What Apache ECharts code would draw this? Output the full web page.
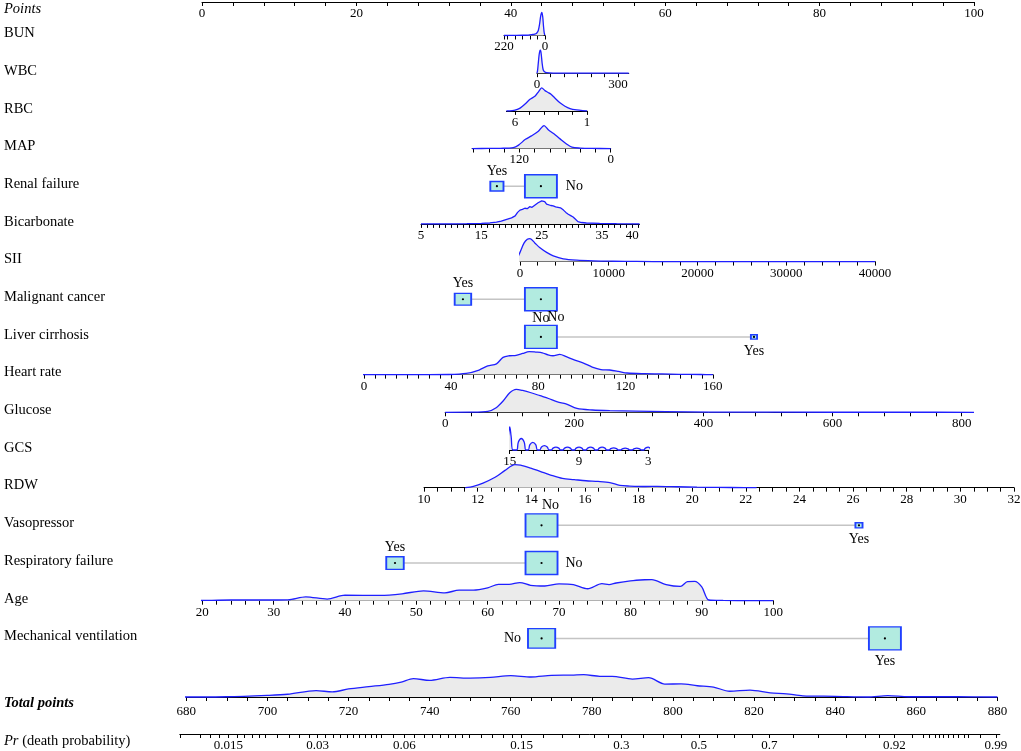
<!DOCTYPE html>
<html><head><meta charset="utf-8">
<script src="https://cdn.jsdelivr.net/npm/echarts@6/dist/echarts.min.js"></script>
<style>html,body{margin:0;padding:0;background:#fff}#c{width:1021px;height:751px}</style>
</head><body><div id="c"></div>
<script>
// ================= DATA =================
function seq(a, b, s) { const r = []; for (let v = a; v <= b + 1e-9; v += s) r.push(+v.toFixed(6)); return r; }

// Points scale
const pointsLabels = [0, 20, 40, 60, 80, 100];
const pointsTicks = seq(0, 100, 4);

// Continuous predictors: value range, points at both ends of the range
const bunRange = [0, 220], bunPoints = [44.43, 39.12];
const bunTicks = [0, 40, 80, 120, 160, 200, 220], bunLabels = [220, 0];
const bunDensity = [[220,0],[170,0.005],[120,0.01],[90,0.02],[70,0.04],[55,0.06],[45,0.1],[36,0.22],[29,0.5],[23,0.85],[17,1.0],[12,0.8],[8,0.4],[4,0.1],[1,0.02],[0,0]];

const wbcRange = [0, 340], wbcPoints = [43.39, 55.28];
const wbcTicks = seq(0, 300, 50), wbcLabels = [0, 300];
const wbcDensity = [[0,0],[2,0.1],[5,0.45],[8,0.8],[11,0.98],[13,1.0],[16,0.8],[19,0.45],[23,0.15],[28,0.06],[36,0.02],[60,0.005],[340,0]];

const rbcRange = [1, 6.6], rbcPoints = [49.87, 39.43];
const rbcTicks = [1, 2, 3, 4, 5, 6], rbcLabels = [6, 1];
const rbcDensity = [[6.6,0],[6.2,0.01],[6.0,0.03],[5.65,0.12],[5.3,0.3],[4.96,0.5],[4.6,0.65],[4.35,0.85],[4.15,1.0],[3.92,0.88],[3.7,0.8],[3.5,0.72],[3.22,0.55],[2.88,0.35],[2.53,0.2],[2.18,0.1],[1.72,0.04],[1.3,0.01],[1,0]];

const mapRange = [0, 182], mapPoints = [52.94, 34.99];
const mapTicks = seq(0, 180, 20), mapLabels = [120, 0];
const mapDensity = [[182,0],[160,0.005],[145,0.01],[128,0.04],[121,0.15],[112,0.4],[104,0.55],[95,0.75],[87.5,1.0],[82,0.82],[75,0.65],[66.5,0.42],[58,0.2],[51,0.06],[40,0.02],[25,0.005],[0,0]];

const bicRange = [5, 41.2], bicPoints = [28.37, 56.67];
const bicTicks = seq(5, 41, 1), bicLabels = [5, 15, 25, 35, 40];
const bicDensity = [[5,0],[10,0.005],[12.6,0.01],[15,0.02],[16.4,0.04],[17.5,0.08],[18.3,0.12],[19.2,0.2],[20,0.26],[20.6,0.35],[21,0.5],[21.4,0.6],[21.8,0.63],[22.2,0.68],[22.6,0.66],[23,0.75],[23.4,0.72],[23.9,0.82],[24.2,0.78],[24.4,0.92],[24.7,0.88],[25,1.0],[25.3,0.93],[25.5,0.97],[25.8,0.86],[26.1,0.85],[26.5,0.8],[26.9,0.78],[27.3,0.74],[27.7,0.72],[28.1,0.7],[28.6,0.6],[29,0.5],[29.4,0.42],[29.8,0.36],[30.2,0.3],[30.6,0.2],[31,0.1],[31.6,0.06],[32.4,0.04],[34.6,0.02],[37.4,0.01],[41.2,0]];

const siiRange = [0, 40000], siiPoints = [41.19, 87.18];
const siiTicks = seq(0, 40000, 2000), siiLabels = [0, 10000, 20000, 30000, 40000];
const siiDensity = [[-1050,0],[-600,0.03],[-370,0.1],[0,0.4],[450,0.8],[825,0.97],[1130,1.0],[1690,0.8],[2250,0.6],[3000,0.4],[3750,0.25],[4880,0.12],[6390,0.06],[8270,0.03],[10500,0.015],[13130,0.005],[16900,0],[40000,0]];

const hrRange = [0, 160], hrPoints = [20.97, 66.17];
const hrTicks = seq(0, 160, 5), hrLabels = [0, 40, 80, 120, 160];
const hrDensity = [[-4.6,0],[30,0],[38.9,0.005],[46.9,0.05],[52.8,0.2],[56.8,0.38],[60.8,0.47],[63.8,0.75],[66.8,0.82],[69.8,0.84],[72.8,0.92],[75.8,1.0],[78.8,0.98],[81.8,0.95],[84.4,0.86],[86.7,0.82],[89.8,0.88],[92.8,0.78],[96.7,0.63],[100.7,0.5],[104.7,0.33],[108.7,0.22],[112.7,0.2],[116.7,0.14],[120.7,0.07],[128.6,0.04],[136.6,0.03],[144.5,0.015],[154.6,0.005],[160,0]];

const gluRange = [0, 816], gluPoints = [31.5, 99.74];
const gluTicks = seq(0, 800, 40), gluLabels = [0, 200, 400, 600, 800];
const gluDensity = [[0,0],[39,0.005],[66,0.04],[79,0.2],[90,0.5],[100,0.85],[110,1.0],[120,0.95],[133,0.85],[147,0.72],[160,0.6],[174,0.45],[187,0.37],[204,0.17],[228,0.1],[255,0.07],[295,0.05],[342,0.03],[410,0.01],[510,0.005],[700,0.002],[840,0]];

const gcsRange = [3, 15], gcsPoints = [57.81, 39.86];
const gcsTicks = seq(3, 15, 1), gcsLabels = [15, 9, 3];
const gcsDensity = [[15.25,0],[15.12,0.6],[15,1.0],[14.88,0.6],[14.72,0],
  [14.4,0],[14.25,0.35],[14,0.5],[13.75,0.35],[13.6,0],
  [13.4,0],[13.25,0.23],[13,0.33],[12.75,0.23],[12.6,0],
  [12.4,0],[12.25,0.13],[12,0.19],[11.75,0.13],[11.6,0],
  [11.4,0],[11.25,0.08],[11,0.12],[10.75,0.08],[10.6,0],
  [10.4,0],[10.25,0.08],[10,0.12],[9.75,0.08],[9.6,0],
  [9.4,0],[9.25,0.08],[9,0.12],[8.75,0.08],[8.6,0],
  [8.4,0],[8.25,0.08],[8,0.12],[7.75,0.08],[7.6,0],
  [7.4,0],[7.25,0.08],[7,0.12],[6.75,0.08],[6.6,0],
  [6.4,0],[6.25,0.06],[6,0.09],[5.75,0.06],[5.6,0],
  [5.4,0],[5.25,0.05],[5,0.08],[4.75,0.05],[4.6,0],
  [4.4,0],[4.25,0.05],[4,0.08],[3.75,0.05],[3.6,0],
  [3.4,0],[3.25,0.08],[3,0.12],[2.8,0.06],[2.65,0]];

const rdwRange = [10, 32], rdwPoints = [28.76, 105.18];
const rdwTicks = seq(10, 32, 0.5), rdwLabels = seq(10, 32, 2);
const rdwDensity = [[11.54,0],[11.84,0.06],[12.2,0.2],[12.65,0.45],[13.02,0.75],[13.39,1.0],[13.6,0.98],[13.98,0.85],[14.35,0.7],[14.72,0.55],[15.16,0.4],[15.6,0.35],[16.04,0.3],[16.49,0.27],[16.93,0.22],[17.3,0.1],[17.67,0.07],[18.26,0.05],[18.7,0.06],[19.44,0.04],[20.18,0.02],[20.92,0.01],[21.95,0.005],[22.4,0]];

const ageRange = [20, 100], agePoints = [0.04, 73.98];
const ageTicks = seq(20, 100, 2), ageLabels = seq(20, 100, 10);
const ageDensity = [[17.7,0],[20,0.01],[24,0.03],[28,0.03],[32,0.04],[34.5,0.17],[37.5,0.07],[40,0.24],[45,0.23],[48,0.3],[51,0.43],[54,0.34],[56,0.46],[58,0.46],[60,0.56],[61.5,0.71],[63,0.71],[64.5,0.79],[66,0.67],[68,0.64],[70,0.73],[72,0.7],[74,0.52],[76,0.74],[77,0.7],[78,0.77],[80,0.86],[82,0.91],[83,0.92],[85,0.7],[87,0.62],[88,0.83],[89,0.84],[90,0.6],[91,0.03],[93,0.01],[97,0.005],[100,0]];

// Categorical predictors: level names, points, relative frequency
const renalLevels = ['Yes', 'No'], renalPts = [38.2, 43.9], renalFreq = [0.145, 0.855];
const malLevels = ['Yes', 'No'], malPts = [33.8, 43.9], malFreq = [0.21, 0.79];
const livLevels = ['No', 'Yes'], livPts = [43.9, 71.5], livFreq = [0.964, 0.036];
const vasoLevels = ['No', 'Yes'], vasoPts = [43.98, 85.1], vasoFreq = [0.953, 0.047];
const respLevels = ['Yes', 'No'], respPts = [25.0, 43.98], respFreq = [0.23, 0.77];
const mechLevels = ['No', 'Yes'], mechPts = [43.99, 88.46], mechFreq = [0.42, 0.58];

// Total points
const totalRange = [680, 880];
const totalTicks = seq(680, 880, 5), totalLabels = seq(680, 880, 20);
const totalDensity = [[678.4,0],[680,0.0],[690,0.01],[700,0.07],[705,0.12],[712,0.28],[716,0.22],[720,0.35],[725,0.45],[730,0.55],[733,0.65],[736,0.8],[740,0.72],[745,0.85],[750,0.82],[755,0.85],[760,0.93],[765,0.87],[770,0.94],[775,0.95],[778,0.97],[782,0.9],[785,0.9],[790,0.78],[794,0.84],[798,0.56],[802,0.57],[806,0.49],[810,0.43],[814,0.25],[819,0.3],[824,0.18],[828,0.14],[832,0.05],[840,0.03],[848,0.0],[853,0.06],[858,0.01],[870,0.01],[880,0]];

// Probability scale: labelled probabilities and the total points at which they sit
const prRange = [678.4, 880.6];
const prLabelValues = ['0.015', '0.03', '0.06', '0.15', '0.3', '0.5', '0.7', '0.92', '0.99'];
const prLabelTotals = [690.4, 712.4, 733.8, 762.7, 787.3, 806.4, 823.8, 854.6, 879.6];
const prMinorValues = [0.012,0.013,0.014,0.015,0.016,0.017,0.018,0.019,0.02,0.022,0.024,0.026,0.028,0.03,0.032,0.034,0.036,0.038,0.04,0.042,0.044,0.046,0.048,0.05,0.055,0.06,0.065,0.07,0.075,0.08,0.085,0.09,0.095,0.1,0.11,0.12,0.13,0.14,0.15,0.175,0.2,0.225,0.25,0.275,0.3,0.35,0.4,0.45,0.5,0.55,0.6,0.65,0.7,0.75,0.8,0.85,0.88,0.9,0.92,0.94,0.95,0.955,0.96,0.963,0.966,0.969,0.972,0.975,0.978,0.98,0.985,0.99];

// ================= LAYOUT / STYLE =================
const FONT = '"Liberation Serif", "Times New Roman", serif';
const P0X = 202, P100X = 974;            // pixel of 0 and 100 points
const T0X = 186.3, T1X = 997.4;          // pixel of 680 and 880 total points
const ptsToPx = p => P0X + p * (P100X - P0X) / 100;
const totToPx = t => T0X + (t - 680) * (T1X - T0X) / 200;
const ROW0_Y = 35.5, ROW_STEP = 37.68;
const rowY = i => ROW0_Y + ROW_STEP * i;
const POINTS_Y = 2, TOTAL_Y = 697, PR_Y = 734;
const DENS_H = 23;
const BLUE = '#1f1fff', AREA = '#ebebeb', BOXFILL = '#b2ebe0', BOXLINE = '#2040ff';

const grids = [], xAxes = [], yAxes = [], series = [], graphics = [];

function axisCommon(ticks, labels, fmt, margin) {
  return {
    axisLine: { show: true, onZero: false, lineStyle: { color: '#000', width: 1 } },
    axisTick: { show: true, customValues: ticks, length: 4, lineStyle: { color: '#000', width: 1 } },
    axisLabel: { show: true, customValues: labels, margin: margin || 5, fontFamily: FONT, fontSize: 13, color: '#000',
      formatter: fmt || (v => String(v)) },
    splitLine: { show: false }
  };
}

function addAxisGrid(left, width, axisY, min, max, inverse, ticks, labels, fmt, margin) {
  const gi = grids.length;
  grids.push({ left, width, top: axisY - DENS_H, height: DENS_H, containLabel: false, outerBoundsMode: 'none' });
  xAxes.push(Object.assign({ gridIndex: gi, type: 'value', position: 'bottom', min, max, inverse }, axisCommon(ticks, labels, fmt, margin)));
  yAxes.push({ gridIndex: gi, type: 'value', min: 0, max: 1, show: false });
  return gi;
}

function addDensity(gi, data, smooth) {
  series.push({ type: 'line', xAxisIndex: gi, yAxisIndex: gi, data, smooth: smooth, symbol: 'none', clip: false,
    silent: true, animation: false, z: 3,
    lineStyle: { color: BLUE, width: 1.3 }, areaStyle: { color: AREA, opacity: 1 } });
}

function addContinuous(row, range, points, ticks, labels, density, smooth) {
  const a = ptsToPx(points[0]), b = ptsToPx(points[1]);
  const gi = addAxisGrid(Math.min(a, b), Math.abs(b - a), rowY(row), range[0], range[1], a > b, ticks, labels);
  addDensity(gi, density, smooth);
}

function addCategorical(row, levels, pts, freq, labelCfg) {
  const y = rowY(row);
  const gi = grids.length;
  grids.push({ left: P0X, width: P100X - P0X, top: y - 15, height: 30, containLabel: false, outerBoundsMode: 'none' });
  xAxes.push({ gridIndex: gi, type: 'value', min: 0, max: 100, show: false });
  yAxes.push({ gridIndex: gi, type: 'value', min: 0, max: 1, show: false });
  const fmax = Math.max.apply(null, freq);
  series.push({ type: 'line', xAxisIndex: gi, yAxisIndex: gi, data: pts.map(p => [p, 0.5]), symbol: 'none',
    silent: true, animation: false, z: 2, lineStyle: { color: '#c4c4c4', width: 1.5 } });
  series.push({ type: 'scatter', xAxisIndex: gi, yAxisIndex: gi, silent: true, animation: false, z: 4,
    data: pts.map((p, k) => {
      const s = Math.sqrt(freq[k] / fmax);
      return { value: [p, 0.5], symbol: 'rect', symbolSize: [32 * s, 23 * s],
        label: Object.assign({ show: true, formatter: levels[k], fontFamily: FONT, fontSize: 14, color: '#000',
          textBorderWidth: 0, opacity: 1 }, labelCfg[k]) };
    }),
    itemStyle: { color: BOXFILL, borderColor: BOXLINE, borderWidth: 1.6, opacity: 1 } });
  series.push({ type: 'scatter', xAxisIndex: gi, yAxisIndex: gi, silent: true, animation: false, z: 5,
    data: pts.map(p => [p, 0.5]), symbol: 'circle', symbolSize: 2.2, itemStyle: { color: '#000', opacity: 1 } });
}

// Points axis
(function () {
  const gi = grids.length;
  grids.push({ left: P0X, width: P100X - P0X, top: 0, height: POINTS_Y, containLabel: false, outerBoundsMode: 'none' });
  xAxes.push(Object.assign({ gridIndex: gi, type: 'value', position: 'bottom', min: 0, max: 100 }, axisCommon(pointsTicks, pointsLabels)));
  yAxes.push({ gridIndex: gi, type: 'value', min: 0, max: 1, show: false });
})();

addContinuous(0, bunRange, bunPoints, bunTicks, bunLabels, bunDensity, 0.3);
addContinuous(1, wbcRange, wbcPoints, wbcTicks, wbcLabels, wbcDensity, 0.3);
addContinuous(2, rbcRange, rbcPoints, rbcTicks, rbcLabels, rbcDensity, 0.3);
addContinuous(3, mapRange, mapPoints, mapTicks, mapLabels, mapDensity, 0.3);
addCategorical(4, renalLevels, renalPts, renalFreq, [{ position: 'top', distance: 2 }, { position: 'right', distance: 8 }]);
addContinuous(5, bicRange, bicPoints, bicTicks, bicLabels, bicDensity, false);
addContinuous(6, siiRange, siiPoints, siiTicks, siiLabels, siiDensity, 0.3);
addCategorical(7, malLevels, malPts, malFreq, [{ position: 'top', distance: 2 }, { position: 'bottom', distance: 0 }]);
addCategorical(8, livLevels, livPts, livFreq, [{ position: 'top', distance: 0, offset: [15, 0] }, { position: 'bottom', distance: 4 }]);
addContinuous(9, hrRange, hrPoints, hrTicks, hrLabels, hrDensity, 0.3);
addContinuous(10, gluRange, gluPoints, gluTicks, gluLabels, gluDensity, 0.3);
addContinuous(11, gcsRange, gcsPoints, gcsTicks, gcsLabels, gcsDensity, 0.4);
addContinuous(12, rdwRange, rdwPoints, rdwTicks, rdwLabels, rdwDensity, 0.3);
addCategorical(13, vasoLevels, vasoPts, vasoFreq, [{ position: 'top', distance: 1, offset: [9, 0] }, { position: 'bottom', distance: 4 }]);
addCategorical(14, respLevels, respPts, respFreq, [{ position: 'top', distance: 2 }, { position: 'right', distance: 7 }]);
addContinuous(15, ageRange, agePoints, ageTicks, ageLabels, ageDensity, 0.3);
addCategorical(16, mechLevels, mechPts, mechFreq, [{ position: 'left', distance: 6 }, { position: 'bottom', distance: 4 }]);

// Total points axis
(function () {
  const gi = addAxisGrid(totToPx(totalRange[0]), totToPx(totalRange[1]) - totToPx(totalRange[0]), TOTAL_Y,
    totalRange[0], totalRange[1], false, totalTicks, totalLabels, null, 8);
  addDensity(gi, totalDensity, 0.3);
})();

// Probability axis (positions in total points)
function cloglog(p) { return Math.log(-Math.log(1 - p)); }
function prToTotal(p) {
  const vals = prLabelValues.map(Number), c = cloglog(p);
  let k = 0;
  while (k < vals.length - 2 && p > vals[k + 1]) k++;
  const c0 = cloglog(vals[k]), c1 = cloglog(vals[k + 1]);
  return prLabelTotals[k] + (c - c0) / (c1 - c0) * (prLabelTotals[k + 1] - prLabelTotals[k]);
}
(function () {
  const ticks = [prRange[0]].concat(prMinorValues.map(prToTotal).filter(t => t >= prRange[0] && t <= prRange[1]));
  addAxisGrid(totToPx(prRange[0]), totToPx(prRange[1]) - totToPx(prRange[0]), PR_Y,
    prRange[0], prRange[1], false, ticks, prLabelTotals,
    v => { let best = 0; prLabelTotals.forEach((t, i) => { if (Math.abs(t - v) < Math.abs(prLabelTotals[best] - v)) best = i; }); return prLabelValues[best]; });
})();

// Row titles
const rowTitles = ['BUN', 'WBC', 'RBC', 'MAP', 'Renal failure', 'Bicarbonate', 'SII', 'Malignant cancer', 'Liver cirrhosis',
  'Heart rate', 'Glucose', 'GCS', 'RDW', 'Vasopressor', 'Respiratory failure', 'Age', 'Mechanical ventilation'];
function addTitle(text, y, font, rich) {
  graphics.push({ type: 'text', left: 4, top: y - 7, silent: true,
    style: { text, font, fill: '#000', rich } });
}
addTitle('Points', 9, 'italic 14.5px ' + FONT);
rowTitles.forEach((t, i) => addTitle(t, rowY(i) - 2.5, '14.5px ' + FONT));
addTitle('Total points', 703, 'italic bold 14.5px ' + FONT);
addTitle('{i|Pr} (death probability)', 741, '14.5px ' + FONT, { i: { fontStyle: 'italic', font: 'italic 14.5px ' + FONT } });

const chart = echarts.init(document.getElementById('c'), null, { renderer: 'canvas' });
chart.setOption({
  animation: false,
  backgroundColor: '#fff',
  grid: grids, xAxis: xAxes, yAxis: yAxes, series, graphic: graphics
});
</script></body></html>
